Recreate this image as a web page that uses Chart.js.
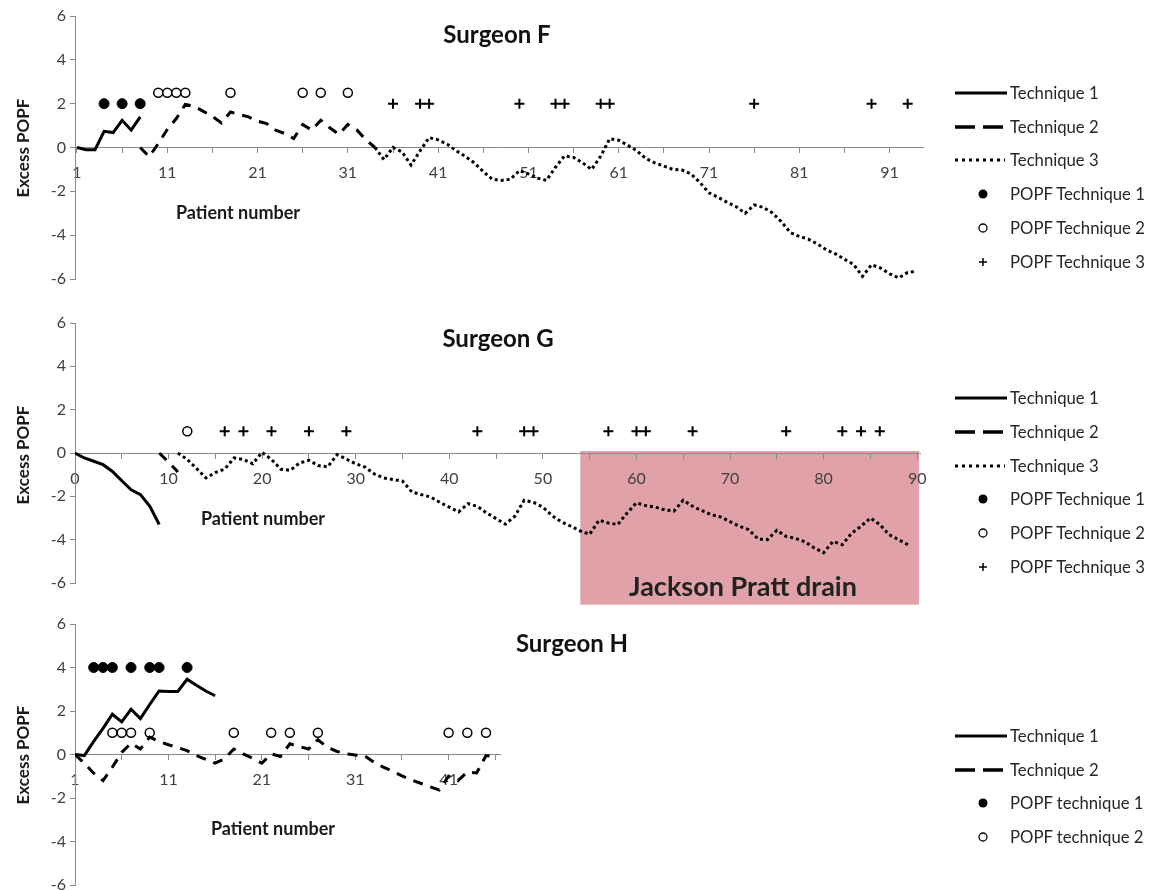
<!DOCTYPE html>
<html>
<head>
<meta charset="utf-8">
<script src="https://cdn.jsdelivr.net/npm/chart.js@4.4.0/dist/chart.umd.min.js"></script>
<style>
  html, body { margin: 0; padding: 0; background: #fff; overflow: hidden; }
  body { width: 1153px; height: 890px; position: relative; font-family: Lato, 'Liberation Sans', sans-serif; color: #1a1a1a; }
  canvas { position: absolute; left: 0; }
  .lbl { position: absolute; transform: translate(-50%, -50%); white-space: nowrap; font-weight: bold; }
  .title { font-size: 24px; color: #111; }
  .axis { font-size: 18px; }
  .ytitle { font-size: 17px; transform: translate(-50%, -50%) rotate(-90deg); }
  .drain { font-size: 27px; color: #222; }
  .leg { position: absolute; left: 953px; display: flex; align-items: center; font-size: 16.7px; color: #262626; transform: translateY(-50%); white-space: nowrap; }
  .leg svg { width: 57px; height: 12px; flex: none; }
</style>
</head>
<body>
<canvas id="cF" width="1153" height="300" style="top:0"></canvas>
<canvas id="cG" width="1153" height="305" style="top:300px"></canvas>
<canvas id="cH" width="1153" height="300" style="top:600px"></canvas>

<div class="lbl title" style="left:497px;top:33px">Surgeon F</div>
<div class="lbl title" style="left:498px;top:337px">Surgeon G</div>
<div class="lbl title" style="left:572px;top:642px">Surgeon H</div>
<div class="lbl ytitle" style="left:22px;top:148px">Excess POPF</div>
<div class="lbl ytitle" style="left:22px;top:455px">Excess POPF</div>
<div class="lbl ytitle" style="left:22px;top:755px">Excess POPF</div>
<div class="lbl axis" style="left:238px;top:212px">Patient number</div>
<div class="lbl axis" style="left:263px;top:518px">Patient number</div>
<div class="lbl axis" style="left:273px;top:828px">Patient number</div>
<div class="lbl drain" style="left:743px;top:585px">Jackson Pratt drain</div>
<div id="legends"></div>

<script>
// Surgeon F: cumulative excess POPF per patient (first patient of each run given by *Start)
const fT1Start = 1;
const fT1 = [0, -0.1, -0.1, 0.74, 0.68, 1.24, 0.79, 1.4];
const fT2Start = 8;
const fT2 = [0, -0.42, 0.18, 0.82, 1.32, 1.97, 1.88, 1.65, 1.42, 1.12, 1.62, 1.5, 1.4, 1.2, 1.09, 0.79, 0.64,
  0.41, 1.05, 0.79, 1.24, 0.9, 0.6, 1.05, 0.8, 0.35, 0];
const fT3Start = 34;
const fT3 = [0, -0.55, 0, -0.2, -0.8, -0.15, 0.45, 0.35, 0.15, -0.15, -0.4, -0.7, -1.1, -1.45, -1.5, -1.45,
  -1.05, -1.2, -1.4, -1.5, -0.9, -0.38, -0.45, -0.7, -1.0, -0.4, 0.4, 0.33, 0.1, -0.15, -0.5, -0.7, -0.85,
  -1.0, -1.03, -1.2, -1.6, -2.07, -2.27, -2.5, -2.7, -3.0, -2.62, -2.73, -2.98, -3.38, -3.88, -4.06, -4.18,
  -4.4, -4.67, -4.85, -5.1, -5.33, -5.88, -5.35, -5.5, -5.76, -5.95, -5.7, -5.65];
const fPopf1 = [4, 6, 8];
const fPopf2 = [10, 11, 12, 13, 18, 26, 28, 31];
const fPopf3 = [36, 39, 40, 50, 54, 55, 59, 60, 76, 89, 93];
const fPopf1Level = 2, fPopf2Level = 2.5, fPopf3Level = 2;
const fTicks = [1, 6, 11, 16, 21, 26, 31, 36, 41, 46, 51, 56, 61, 66, 71, 76, 81, 86, 91];
const fTickLabels = [1, 11, 21, 31, 41, 51, 61, 71, 81, 91];

// Surgeon G
const gT1Start = 0;
const gT1 = [0, -0.23, -0.38, -0.54, -0.85, -1.28, -1.7, -1.92, -2.46, -3.3];
const gT2Start = 9;
const gT2 = [0, -0.42, -0.88];
const gT3Start = 11;
const gT3 = [0, -0.3, -0.72, -1.15, -0.9, -0.74, -0.23, -0.3, -0.5, 0.03, -0.3, -0.75, -0.8, -0.46, -0.34,
  -0.58, -0.64, -0.08, -0.28, -0.5, -0.65, -0.97, -1.15, -1.23, -1.3, -1.8, -1.92, -2.03, -2.28, -2.5, -2.72,
  -2.34, -2.46, -2.77, -3.03, -3.28, -2.92, -2.18, -2.28, -2.5, -2.9, -3.18, -3.38, -3.6, -3.75, -3.1, -3.23,
  -3.3, -2.77, -2.3, -2.43, -2.5, -2.62, -2.68, -2.18, -2.46, -2.66, -2.85, -2.95, -3.17, -3.38, -3.54, -3.97,
  -4.0, -3.57, -3.85, -3.94, -4.1, -4.38, -4.6, -4.08, -4.23, -3.7, -3.38, -3.0, -3.3, -3.77, -4.0, -4.23];
const gPopf2 = [12];
const gPopf3 = [16, 18, 21, 25, 29, 43, 48, 49, 57, 60, 61, 66, 76, 82, 84, 86];
const gPopfLevel = 1;
const gTicks = [0, 5, 10, 15, 20, 25, 30, 35, 40, 45, 50, 55, 60, 65, 70, 75, 80, 85, 90];
const gTickLabels = [0, 10, 20, 30, 40, 50, 60, 70, 80, 90];
const drainFrom = 54, drainTo = 90.2;

// Surgeon H
const hT1Start = 1;
const hT1 = [0, -0.05, 0.6, 1.2, 1.85, 1.5, 2.08, 1.65, 2.3, 2.92, 2.9, 2.9, 3.46, 3.18, 2.92, 2.7];
const hT2Start = 1;
const hT2 = [0, -0.4, -0.86, -1.2, -0.58, 0.09, 0.52, 0.25, 0.8, 0.6, 0.45, 0.32, 0.18, -0.05, -0.22, -0.4,
  -0.2, 0.25, 0.03, -0.17, -0.4, 0.03, -0.09, 0.49, 0.37, 0.25, 0.68, 0.34, 0.15, 0.03, -0.02, -0.06, -0.35,
  -0.58, -0.77, -0.98, -1.17, -1.32, -1.48, -1.63, -1.0, -1.2, -0.8, -0.85, -0.05, -0.1];
const hPopf1 = [3, 4, 5, 7, 9, 10, 13];
const hPopf2 = [5, 6, 7, 9, 18, 22, 24, 27, 41, 43, 45];
const hPopf1Level = 4, hPopf2Level = 1;
const hTicks = [1, 6, 11, 16, 21, 26, 31, 36, 41, 46];
const hTickLabels = [1, 11, 21, 31, 41];

const yTicks = [-6, -4, -2, 0, 2, 4, 6];

const SOLID = [], DASH = [10, 8], DOTS = [3, 3];
const tickFont = { family: 'Lato, "Liberation Sans", sans-serif', size: 16 };
const axisGrid = { drawOnChartArea: false, drawTicks: true, tickLength: 5, color: '#8a8a8a' };
const axisBorder = { color: '#8a8a8a', width: 1 };

function lineSet(values, start, dash) {
  return {
    data: values.map((v, i) => ({ x: start + i, y: v })),
    showLine: true, pointRadius: 0, borderColor: '#000', backgroundColor: '#000',
    borderWidth: 3, borderDash: dash, tension: 0
  };
}

const dotStyle = { pointStyle: 'circle', pointRadius: 5, backgroundColor: '#000', borderColor: '#000', borderWidth: 1 };
const ringStyle = { pointStyle: 'circle', pointRadius: 4.5, backgroundColor: '#fff', borderColor: '#000', borderWidth: 1.5 };
const plusStyle = { pointStyle: 'cross', pointRadius: 5, borderColor: '#000', borderWidth: 2 };

function markSet(xs, level, style) {
  return { data: xs.map(x => ({ x, y: level })), showLine: false, ...style };
}

// pink block behind the Jackson Pratt drain patients, drawn under the axes
const drainPlugin = {
  id: 'drain',
  beforeDraw(chart) {
    const { ctx, scales: { x, y } } = chart;
    const left = x.getPixelForValue(drainFrom), right = x.getPixelForValue(drainTo);
    const top = y.getPixelForValue(0) - 2, bottom = y.getPixelForValue(-7);
    ctx.save();
    ctx.fillStyle = '#e0a2a8';
    ctx.fillRect(left, top, right - left, bottom - top);
    ctx.restore();
  }
};

function panel(id, xMin, xMax, ticks, shown, pad, datasets, extra) {
  return new Chart(document.getElementById(id), {
    type: 'scatter',
    data: { datasets },
    options: {
      responsive: false, animation: false, devicePixelRatio: 1,
      layout: { padding: pad },
      plugins: { legend: { display: false }, tooltip: { enabled: false } },
      scales: {
        x: {
          type: 'linear', min: xMin, max: xMax, position: { y: 0 },
          afterBuildTicks: s => { s.ticks = ticks.map(v => ({ value: v })); },
          grid: axisGrid, border: axisBorder,
          ticks: { autoSkip: false, maxRotation: 0, padding: 11, color: '#404040', font: tickFont,
            callback: v => shown.includes(v) ? String(v) : '' }
        },
        y: {
          min: -6, max: 6,
          afterBuildTicks: s => { s.ticks = yTicks.map(v => ({ value: v })); },
          afterFit: s => { s.width = 40; },
          grid: axisGrid, border: axisBorder,
          ticks: { padding: 4, color: '#404040', font: tickFont }
        }
      }
    },
    plugins: extra || []
  });
}

panel('cF', 0.78, 94.7, fTicks, fTickLabels, { left: 35, right: 230, top: 16, bottom: 21 }, [
  lineSet(fT1, fT1Start, SOLID),
  lineSet(fT2, fT2Start, DASH),
  lineSet(fT3, fT3Start, DOTS),
  markSet(fPopf1, fPopf1Level, dotStyle),
  markSet(fPopf2, fPopf2Level, ringStyle),
  markSet(fPopf3, fPopf3Level, plusStyle)
]);

panel('cG', 0, 90.3, gTicks, gTickLabels, { left: 35, right: 233, top: 23, bottom: 22 }, [
  lineSet(gT1, gT1Start, SOLID),
  lineSet(gT2, gT2Start, DASH),
  lineSet(gT3, gT3Start, DOTS),
  markSet(gPopf2, gPopfLevel, ringStyle),
  markSet(gPopf3, gPopfLevel, plusStyle)
], [drainPlugin]);

panel('cH', 1, 46.5, hTicks, hTickLabels, { left: 35, right: 653, top: 24, bottom: 15 }, [
  lineSet(hT1, hT1Start, SOLID),
  lineSet(hT2, hT2Start, DASH),
  markSet(hPopf1, hPopf1Level, dotStyle),
  markSet(hPopf2, hPopf2Level, ringStyle)
]);

// legends (html so the text stays real text)
const samples = {
  solid: '<line x1="2" y1="6" x2="54" y2="6" stroke="#000" stroke-width="3"/>',
  dash: '<line x1="2" y1="6" x2="50" y2="6" stroke="#000" stroke-width="3.5" stroke-dasharray="20 8"/>',
  dots: '<line x1="2" y1="6" x2="52" y2="6" stroke="#000" stroke-width="3" stroke-dasharray="3 4"/>',
  dot: '<circle cx="30" cy="6" r="4.5" fill="#000"/>',
  ring: '<circle cx="30" cy="6" r="4" fill="#fff" stroke="#000" stroke-width="1.3"/>',
  plus: '<path d="M26 6H34M30 2V10" stroke="#000" stroke-width="1.5"/>'
};

function legend(rows) {
  const box = document.getElementById('legends');
  rows.forEach(([y, kind, text]) => {
    const d = document.createElement('div');
    d.className = 'leg';
    d.style.top = y + 'px';
    d.innerHTML = '<svg viewBox="0 0 57 12">' + samples[kind] + '</svg><span>' + text + '</span>';
    box.appendChild(d);
  });
}

legend([
  [93, 'solid', 'Technique 1'], [127, 'dash', 'Technique 2'], [160, 'dots', 'Technique 3'],
  [194, 'dot', 'POPF Technique 1'], [228, 'ring', 'POPF Technique 2'], [262, 'plus', 'POPF Technique 3'],
  [398, 'solid', 'Technique 1'], [432, 'dash', 'Technique 2'], [466, 'dots', 'Technique 3'],
  [499, 'dot', 'POPF Technique 1'], [533, 'ring', 'POPF Technique 2'], [567, 'plus', 'POPF Technique 3'],
  [736, 'solid', 'Technique 1'], [770, 'dash', 'Technique 2'],
  [803, 'dot', 'POPF technique 1'], [837, 'ring', 'POPF technique 2']
]);
</script>
</body>
</html>
